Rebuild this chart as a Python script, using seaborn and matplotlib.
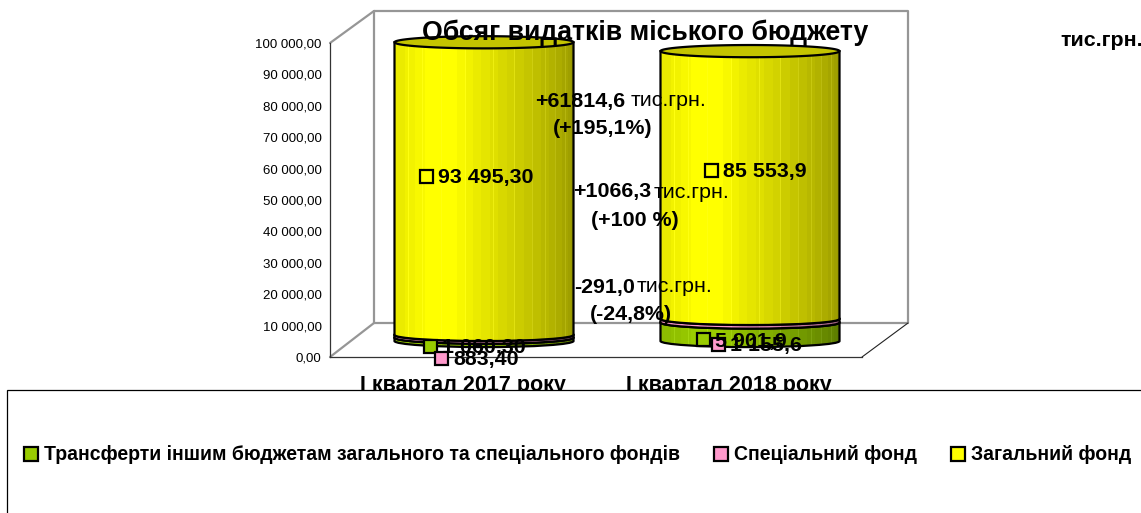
import numpy as np
import pandas as pd
import matplotlib
matplotlib.use("Agg")
import matplotlib.pyplot as plt
import seaborn as sns
from matplotlib.patches import Patch, PathPatch, Rectangle
from matplotlib.path import Path

W, H = 1141, 513

categories = ["І квартал 2017 року", "І квартал 2018 року"]
transfers = [1060.3, 5901.9]
special = [883.4, 1155.6]
general = [93495.3, 85553.9]
series_names = ["Трансферти іншим бюджетам загального та спеціального фондів",
                "Спеціальний фонд", "Загальний фонд"]
series_colors = ["#99CC00", "#FF99CC", "#FFFF00"]
yticks = np.arange(0, 100001, 10000)
ytick_labels = ["0,00", "10 000,00", "20 000,00", "30 000,00", "40 000,00", "50 000,00",
                "60 000,00", "70 000,00", "80 000,00", "90 000,00", "100 000,00"]
value_labels = ["93 495,30", "85 553,9", "1 060,30", "5 901,9", "883,40", "1 155,6"]

sns.set_theme(style="white")
plt.rcParams['font.family'] = ['Liberation Sans', 'DejaVu Sans']

fig = plt.figure(figsize=(W / 100, H / 100), dpi=100)


def box(x0, y_top, x1, y_bottom):
    return [x0 / W, 1 - y_bottom / H, (x1 - x0) / W, (y_bottom - y_top) / H]


# walls of the 3d box, pixel coordinates
walls = fig.add_axes([0, 0, 1, 1], zorder=0)
walls.set_xlim(0, W)
walls.set_ylim(H, 0)
walls.axis("off")
gray = "#969696"
walls.plot([374, 908, 908, 374, 374], [11, 11, 323, 323, 11], color=gray, lw=1.6)
walls.plot([330, 374], [43, 11], color=gray, lw=1.6)
walls.plot([330, 374], [357, 323], color=gray, lw=1.6)
walls.plot([862, 908], [357, 323], color="#222222", lw=0.8)

# front axis with the ticks and category names
front = fig.add_axes(box(330, 43, 862, 357), zorder=1)
front.patch.set_alpha(0)
front.set_xlim(-0.5, 1.5)
front.set_ylim(0, 100000)
front.set_yticks(yticks, ytick_labels, fontsize=9.5, color="black")
front.set_xticks([0, 1], categories, fontsize=15.5, fontweight="bold", color="black")
front.set_xticks([-0.5, 0.5, 1.5], minor=True)
front.tick_params(axis="x", which="major", length=0, pad=13)
front.tick_params(axis="x", which="minor", length=5, width=0.8, color="#333333")
front.tick_params(axis="y", length=5, width=0.8, color="#333333", pad=1)
for s in ["top", "right"]:
    front.spines[s].set_visible(False)
for s in ["left", "bottom"]:
    front.spines[s].set_color("#333333")
    front.spines[s].set_linewidth(0.9)

# cylinders live on the plane half way in the box, y range goes below 0 for the round bottoms
ax = fig.add_axes(box(351, 28, 883, 372.3), zorder=2)
ax.axis("off")

df = pd.DataFrame({"cat": categories, "transfers": transfers, "special": special, "general": general})
bottoms = np.zeros(len(df))
for col in ["transfers", "special", "general"]:
    sns.barplot(data=df, x="cat", y=col, ax=ax, width=0.673, bottom=bottoms, color="white", errorbar=None)
    bottoms = bottoms + df[col].values

shade_x = np.linspace(0, 1, 179)
shade = np.interp(shade_x, [0, 0.2, 0.33, 0.6, 0.85, 0.97, 1], [0.91, 1, 1, 0.85, 0.72, 0.64, 0.58])
shade = np.round(shade * 40) / 40
stripes = np.zeros(179)
stripes[[14, 28, 47, 71, 98, 119, 137, 150, 160, 170]] = 0.1

ELL = 1950  # half height of the ellipses in y units
n_cat = len(categories)
rects = list(ax.patches)
for i, r in enumerate(rects):
    r.set_visible(False)
    x0, w = r.get_x(), r.get_width()
    y0, h = r.get_y(), r.get_height()
    x1, xc = x0 + w, x0 + w / 2
    y1 = y0 + h
    rgb = np.array(matplotlib.colors.to_rgb(series_colors[i // n_cat]))
    img = (np.outer(shade, rgb) + np.outer(stripes, [1, 1, 1]) * 0.6).clip(0, 1)[None, :, :]
    k = 0.5523
    # side and bottom curve of the segment
    verts = [(x0, y1), (x0, y0),
             (x0, y0 - k * ELL), (xc - k * w / 2, y0 - ELL), (xc, y0 - ELL),
             (xc + k * w / 2, y0 - ELL), (x1, y0 - k * ELL), (x1, y0),
             (x1, y1), (x0, y1)]
    codes = [Path.MOVETO, Path.LINETO, Path.CURVE4, Path.CURVE4, Path.CURVE4,
             Path.CURVE4, Path.CURVE4, Path.CURVE4, Path.LINETO, Path.CLOSEPOLY]
    body = PathPatch(Path(verts, codes), fc="none", ec="black", lw=1.6, zorder=i + 10)
    ax.add_patch(body)
    im = ax.imshow(img, extent=[x0, x1, y0 - ELL, y1], aspect="auto", zorder=i + 9.5, interpolation="nearest")
    im.set_clip_path(body)
    # top ellipse
    th = np.linspace(0, 2 * np.pi, 80)
    ax.fill(xc + w / 2 * np.cos(th), y1 + ELL * np.sin(th), fc=rgb * 0.77, ec="black", lw=1.6, zorder=i + 10.5)
ax.set_xlim(-0.5, 1.5)
ax.set_ylim(-10000, 100000)

# everything written above the cylinders
top = fig.add_axes([0, 0, 1, 1], zorder=3)
top.set_xlim(0, W)
top.set_ylim(H, 0)
top.axis("off")
top.patch.set_alpha(0)

top.text(645.5, 33, "Обсяг видатків міського бюджету", ha="center", va="center", fontsize=19.2, fontweight="bold", color="black")
top.text(1060, 41, "тис.грн.", va="center", fontsize=15.4, fontweight="bold", color="black", clip_on=True)


def note(x, y, bold, regular=None, x2=None):
    top.text(x, y, bold, va="center", fontsize=15.4, fontweight="bold", color="black")
    if regular:
        top.text(x2, y, regular, va="center", fontsize=15.4, color="black")


note(535, 101, "+61814,6", "тис.грн.", 631)
note(553, 129, "(+195,1%)")
note(573, 192, "+1066,3", "тис.грн.", 654)
note(591, 221, "(+100 %)")
note(574, 287, "-291,0", "тис.грн.", 637)
note(590, 314, "(-24,8%)")

keys = [(426, 176, 2), (711, 170, 2), (430, 346, 0), (703, 339, 0), (441, 358, 1), (718, 344, 1)]
for (kx, ky, s), txt in zip(keys, value_labels):
    top.text(kx + 12, ky + 2, txt, va="center", fontsize=15.4, fontweight="bold", color="black")
    top.add_patch(Rectangle((kx - 6.5, ky - 6.5), 13, 13, fc=series_colors[s], ec="black", lw=1.6))

# legend box, hides the bottom of the category names
fig.add_artist(Rectangle((7 / W, -0.1), 1.1, 1.1 - 390 / H, transform=fig.transFigure,
                         fc="white", ec="black", lw=0.9, zorder=4))
handles = [Patch(fc=c, ec="black", lw=1.6) for c in series_colors]
fig.legend(handles, series_names, ncol=3, frameon=False, loc="center left",
           bbox_to_anchor=(24 / W, 1 - 455 / H), borderaxespad=0, borderpad=0,
           handlelength=0.72, handleheight=0.72, handletextpad=0.3, columnspacing=1.75,
           labelcolor="black", prop={"size": 14.05, "weight": "bold"})

fig.savefig("out.png", dpi=100)
